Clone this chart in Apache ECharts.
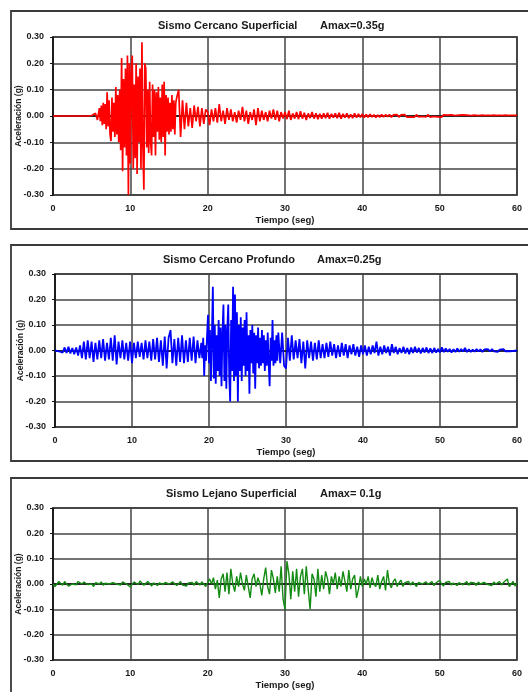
<!DOCTYPE html>
<html><head><meta charset="utf-8">
<script src="https://cdn.jsdelivr.net/npm/echarts@6/dist/echarts.min.js"></script>
<style>html,body{margin:0;padding:0;background:#fff}#c{width:528px;height:692px}</style>
</head><body><div id="c"></div>
<script>
const xTicks = [0, 10, 20, 30, 40, 50, 60];
const yTicks = [-0.30, -0.20, -0.10, 0.00, 0.10, 0.20, 0.30];
const titles = ["Sismo Cercano Superficial", "Sismo Cercano Profundo", "Sismo Lejano Superficial"];
const amax = ["Amax=0.35g", "Amax=0.25g", "Amax= 0.1g"];

// Each record is stored in segments: start time (s), sampling step (s), acceleration values (g)
// --- Sismo Cercano Superficial (red)
const redOnsetStart = 0, redOnsetStep = 0.25;
const redOnset = [0,0,0,0,0,0,0,0,0,0,0,0,0,0,0,0,0,0,0,0, 0.002,-0.004,0.01,-0.015];
const redBurstStart = 6, redBurstStep = 0.125;
const redBurst = [
0.03,-0.02,0.04,-0.035,0.05,-0.03,0.045,-0.05,
0.09,-0.04,0.06,-0.07,-0.095,0.07,-0.06,0.05,
-0.08,0.11,-0.07,0.08,-0.1,0.1,-0.13,0.22,
-0.21,0.14,-0.12,0.18,-0.15,0.23,-0.30,0.2,
-0.18,0.16,0.23,-0.2,0.12,-0.16,0.2,-0.22,
0.15,-0.1,0.18,-0.2,0.28,-0.12,-0.28,0.2,
0.18,-0.12,0.1,-0.14,0.13,-0.1,-0.15,0.12,
-0.08,0.1,-0.15,0.09,-0.06,0.11,-0.09,0.07,
-0.1,0.12,-0.08,0.13,-0.15,0.08,-0.06,0.07,
-0.07,0.05,-0.06,0.08,-0.05,0.06,-0.07,0.05];
const redTailStart = 16, redTailStep = 0.25;
const redTail = [
0.07,0.1,-0.08,0.06,-0.05,0.05,-0.04,0.03,-0.045,0.04,-0.02,0.035,-0.04,0.03,-0.03,0.025,
0.015,-0.035,0.025,-0.02,0.03,-0.025,0.045,-0.02,0.02,-0.03,0.03,-0.015,0.025,-0.02,0.015,-0.025,0.02,-0.015,0.035,-0.02,
0.02,-0.03,0.015,-0.015,0.025,-0.035,0.03,-0.02,0.02,-0.015,0.015,-0.02,0.02,-0.01,0.025,-0.015,0.02,-0.02,0.015,-0.01,
0.015,-0.012,0.02,-0.015,0.01,-0.01,0.015,-0.012,0.018,-0.01,0.012,-0.015,0.01,-0.008,0.015,-0.01,0.01,-0.012,0.008,-0.01,
0.01,-0.008,0.012,-0.01,0.008,-0.006,0.01,-0.008,0.012,-0.01,0.008,-0.006,0.01,-0.008,0.006,-0.008,0.01,-0.006,0.008,-0.005,
0.008,-0.006,0.006,-0.005,0.007,-0.004,0.005,-0.006,0.004,-0.005,0.006,-0.004,0.005,-0.003,0.006,-0.005,0.004,-0.003,0.005,-0.004,
0.004,-0.003,0.005,-0.004,0.003,-0.003,0.004,-0.004,0.005,-0.003,0.003,-0.002,0.004,-0.003,0.005,-0.004,0.003,-0.002,0.004,-0.003,
0.003,-0.004,0.004,-0.002,0.003,-0.003,0.004,-0.002,0.002,-0.003,0.003,-0.002,0.004,-0.003,0.003,-0.002,0.002,-0.003,0.003,-0.002,
0.002,-0.002,0.003,-0.002,0.002,-0.003,0.002,-0.002,0.003,-0.002,0.002,-0.001,0.002,-0.002,0.003,-0.002,0.002,-0.001,0.002,-0.001,
0.002];

// --- Sismo Cercano Profundo (blue)
const bluePreStart = 0, bluePreStep = 0.25;
const bluePre = [
0,0.002,-0.003,0.004,-0.008,0.012,-0.01,0.015,-0.012,0.01,-0.015,0.012,-0.02,0.02,-0.03,0.035,-0.035,0.04,-0.03,0.035,
-0.045,0.03,-0.035,0.04,-0.03,0.045,-0.04,0.03,-0.035,0.05,-0.04,0.06,-0.055,0.035,-0.03,0.04,-0.035,0.03,-0.04,0.035,
-0.05,0.03,-0.03,0.035,-0.025,0.03,-0.035,0.04,-0.03,0.035,-0.04,0.045,-0.035,0.05,-0.045,0.04,-0.06,0.055,-0.07,0.05,
0.08,-0.05,0.045,-0.06,0.05,-0.045,0.06,-0.05,0.04,-0.045,0.05,-0.04,0.055,-0.05,0.04,-0.03];
const blueBurstStart = 19, blueBurstStep = 0.125;
const blueBurst = [
0.03,-0.03,0.05,-0.10,0.02,-0.04,0.06,0.14,
-0.05,0.08,-0.12,0.05,0.25,-0.11,0.1,-0.13,
0.06,-0.08,0.12,-0.1,0.09,-0.14,0.07,0.18,
-0.12,0.1,-0.15,0.08,0.18,-0.1,-0.20,0.12,
-0.08,0.25,-0.12,0.22,-0.1,0.15,-0.20,0.1,
-0.08,0.13,-0.12,0.09,-0.06,0.12,-0.1,0.15,
-0.08,0.06,-0.17,0.08,-0.05,0.1,-0.09,0.07,
-0.15,0.06,-0.05,0.09,-0.07,0.05,-0.06,0.08,
-0.05,0.06,-0.08,0.04,-0.06,0.07,-0.05,-0.14,
0.05,-0.04,0.12,-0.06,0.04,-0.05,0.06,-0.04];
const blueTailStart = 29, blueTailStep = 0.25;
const blueTail = [
0.07,-0.05,0.07,-0.06,
-0.07,0.05,-0.04,0.06,-0.035,0.04,-0.03,0.045,-0.05,0.035,-0.07,0.04,-0.03,0.035,-0.04,0.03,-0.035,0.04,-0.03,0.025,
-0.03,0.03,-0.025,0.035,-0.02,0.025,-0.03,0.02,-0.025,0.03,-0.02,0.025,-0.03,0.02,-0.015,0.025,-0.02,0.015,-0.025,0.02,
-0.015,0.02,-0.02,0.015,-0.015,0.02,-0.01,0.035,-0.02,0.015,-0.015,0.02,-0.01,0.015,-0.02,0.025,-0.01,0.015,-0.015,0.01,
-0.01,0.015,-0.012,0.01,-0.015,0.012,-0.01,0.015,-0.008,0.01,-0.012,0.01,-0.008,0.012,-0.01,0.008,-0.01,0.01,-0.008,0.006,
-0.008,0.012,-0.006,0.008,-0.005,0.006,-0.008,0.005,-0.006,0.008,-0.005,0.006,-0.004,0.01,-0.006,0.005,-0.006,0.004,-0.005,0.006,
-0.004,0.005,-0.006,0.004,-0.003,0.005,-0.004,0.006,-0.003,0.004,-0.005,0.003,-0.004,0.005,-0.003,0.004,-0.003,0.003,-0.002,0.003,
0];

// --- Sismo Lejano Superficial (green)
const greenStart = 0, greenStep = 0.25;
const greenAll = [
0,-0.01,0,0.01,0.005,-0.005,0.01,0,-0.008,-0.005,0,0.005,-0.003,0.01,0.005,0,0.008,0.01,-0.002,0.003,
0,-0.01,0.005,0.01,0,0.008,-0.005,0.003,0.01,0,-0.005,0.005,0.01,0,0.003,-0.004,0.008,0.01,0,-0.005,
-0.012,0,0.008,0.01,-0.002,0.012,0.005,-0.005,0,0.01,0.002,-0.008,0.005,0,-0.006,0.004,0.01,-0.002,0.006,0.01,
0,-0.005,0.008,0.004,-0.006,0.002,0.01,-0.004,0,-0.008,0.004,0,0.006,-0.005,0.01,0.004,-0.004,0.008,0.002,-0.01,
-0.005,0.02,0,0.025,-0.02,0.015,-0.055,0.02,0.04,-0.03,0.045,-0.04,0.06,0,-0.03,0.03,-0.01,0.045,0,-0.025,
0.035,-0.01,-0.055,0.02,0.04,-0.01,0.025,0,-0.045,0.02,0.065,-0.01,-0.04,0.055,0.02,-0.035,0.03,-0.03,0.07,-0.06,
-0.1,0.09,0.04,-0.06,0.05,-0.03,0.06,-0.05,0.03,0.06,-0.04,0.07,-0.02,-0.1,0.04,0.02,-0.05,0.06,-0.03,0.035,
-0.02,0.05,0.02,-0.04,0.03,0,0.045,-0.02,0.03,-0.01,0.05,0.01,-0.03,0.055,-0.02,0.02,0.035,-0.055,-0.02,0.03,
-0.01,0.02,0,0.03,-0.015,0.025,0,-0.01,0.035,-0.02,0.01,0.03,-0.025,0.055,0,-0.015,0.01,0.02,-0.01,0.005,
0.015,-0.01,0.005,0,0.01,-0.005,0.008,0,-0.01,0.006,0.01,0,-0.005,0.008,-0.002,0.005,0.01,-0.006,0.004,0,
0.015,0,-0.008,0.006,0,0.01,-0.004,0.004,0,-0.006,0.005,0.008,-0.003,0.002,0.01,-0.005,0.006,0,0.004,-0.006,
0.008,0,-0.004,0.006,0.01,-0.002,0.004,-0.006,0.008,0,0.005,0.01,-0.004,0.006,0,0.02,-0.01,0,0.01,-0.008,
0.005];

function seg(start, step, vals) { return vals.map((v, i) => [start + i * step, v]); }
const records = [
  [].concat(seg(redOnsetStart, redOnsetStep, redOnset), seg(redBurstStart, redBurstStep, redBurst), seg(redTailStart, redTailStep, redTail)),
  [].concat(seg(bluePreStart, bluePreStep, bluePre), seg(blueBurstStart, blueBurstStep, blueBurst), seg(blueTailStart, blueTailStep, blueTail)),
  seg(greenStart, greenStep, greenAll)
];
const colors = ['#ff0000', '#0000ff', '#148c14'];
const widths = [1.7, 1.8, 1.4];

const FONT = '"Liberation Sans", Arial, sans-serif';
const TXT = '#1a1a1a';
const grids = [
  {left: 53, top: 37, width: 464, height: 158},
  {left: 55, top: 274, width: 462, height: 153},
  {left: 53, top: 508, width: 464, height: 152}
];
const boxes = [[11, 11, 530, 229], [11, 245, 530, 461], [11, 478, 530, 700]];
const titleY = [26, 260, 494];
const titleX = [[158, 320], [163, 317], [166, 320]];

const option = {
  animation: false,
  backgroundColor: '#fff',
  title: [],
  grid: grids.map(g => Object.assign({show: true, borderColor: '#111', borderWidth: 1.5, backgroundColor: 'transparent',
    containLabel: false, outerBoundsMode: 'none'}, g)),
  xAxis: [], yAxis: [], series: [],
  graphic: boxes.map(b => ({
    type: 'rect', silent: true, z: -1,
    shape: {x: b[0], y: b[1], width: b[2] - b[0], height: b[3] - b[1]},
    style: {fill: 'none', stroke: '#3a3a3a', lineWidth: 1.8}
  }))
};

records.forEach((rec, k) => {
  const ts = {fontFamily: FONT, fontSize: 11, fontWeight: 'bold', color: TXT};
  option.title.push({text: titles[k], left: titleX[k][0], top: titleY[k] - 6, padding: 0, textStyle: ts});
  option.title.push({text: amax[k], left: titleX[k][1], top: titleY[k] - 6, padding: 0, textStyle: ts});
  option.xAxis.push({
    type: 'value', gridIndex: k, min: xTicks[0], max: xTicks[xTicks.length - 1], interval: 10,
    name: 'Tiempo (seg)', nameLocation: 'middle', nameGap: 20, nameMoveOverlap: false,
    nameTextStyle: {fontFamily: FONT, fontSize: 9.5, fontWeight: 'bold', color: TXT},
    axisLine: {show: true, lineStyle: {color: '#111', width: 1.5}},
    axisTick: {show: false},
    axisLabel: {fontFamily: FONT, fontSize: 9, fontWeight: 'bold', color: TXT, margin: 9, showMaxLabel: true, showMinLabel: true},
    splitLine: {show: true, lineStyle: {color: '#444', width: 1.5}}
  });
  option.yAxis.push({
    type: 'value', gridIndex: k, min: yTicks[0], max: yTicks[yTicks.length - 1], interval: 0.1,
    name: 'Aceleración (g)', nameLocation: 'middle', nameGap: 30, nameMoveOverlap: false,
    nameTextStyle: {fontFamily: FONT, fontSize: 8.5, fontWeight: 'bold', color: TXT},
    axisLine: {show: true, onZero: false, lineStyle: {color: '#111', width: 1.5}},
    axisTick: {show: true, length: 3, lineStyle: {color: '#111'}},
    axisLabel: {fontFamily: FONT, fontSize: 9, fontWeight: 'bold', color: TXT, margin: 9,
      formatter: v => v.toFixed(2)},
    splitLine: {show: true, lineStyle: {color: '#444', width: 1.5}}
  });
  option.series.push({
    type: 'line', xAxisIndex: k, yAxisIndex: k, showSymbol: false, symbol: 'none',
    lineStyle: {color: colors[k], width: widths[k]},
    data: rec, z: 3
  });
});

const chart = echarts.init(document.getElementById('c'), null, {renderer: 'canvas'});
chart.setOption(option);
</script></body></html>
